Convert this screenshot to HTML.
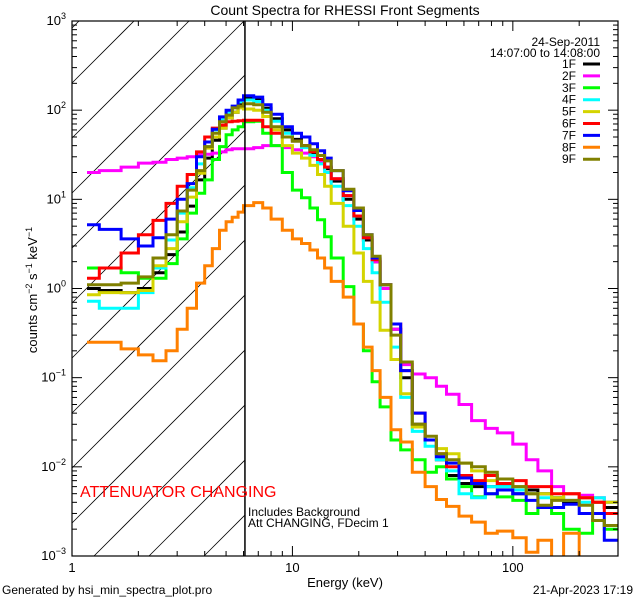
<!DOCTYPE html>
<html><head><meta charset="utf-8"><style>
html,body{margin:0;padding:0;background:#fff;width:640px;height:600px;overflow:hidden}
svg{display:block;font-family:"Liberation Sans",sans-serif}
</style></head><body>
<svg id="chart" width="640" height="600" viewBox="0 0 640 600" xmlns="http://www.w3.org/2000/svg">
<defs><clipPath id="plotclip"><rect x="72" y="21" width="546" height="535"/></clipPath></defs>
<text x="345" y="15" font-size="14" text-anchor="middle">Count Spectra for RHESSI Front Segments</text>
<g id="hatch"></g>
<g id="series" clip-path="url(#plotclip)"></g>
<g id="axes"></g>
<text x="80" y="497" font-size="16" fill="#f00">ATTENUATOR CHANGING</text>
<text x="248" y="516" font-size="12">Includes Background</text>
<text x="248" y="527" font-size="12">Att CHANGING, FDecim 1</text>
<text x="600" y="46" font-size="12" text-anchor="end">24-Sep-2011</text>
<text x="600" y="57" font-size="12" text-anchor="end">14:07:00 to 14:08:00</text>
<g id="legend"></g>
<text x="345" y="587" font-size="13" text-anchor="middle">Energy (keV)</text>
<text transform="translate(37,290) rotate(-90)" font-size="13" text-anchor="middle">counts cm<tspan dy="-5" font-size="9">−2</tspan><tspan dy="5"> s</tspan><tspan dy="-5" font-size="9">−1</tspan><tspan dy="5"> keV</tspan><tspan dy="-5" font-size="9">−1</tspan></text>
<text x="2" y="594" font-size="12">Generated by hsi_min_spectra_plot.pro</text>
<text x="633" y="594" font-size="12" text-anchor="end">21-Apr-2023 17:19</text>
</svg>
<script>
const edges=[1.17,1.33,1.67,2,2.33,2.67,3,3.33,3.67,4,4.33,4.67,5,5.33,5.67,6,6.67,7.33,8,9,10,11,12,13,14,15,17,19,21,23,25,28,31,35,40,45,50,57,65,75,85,100,115,130,150,170,200,230,260,300];
const seriesNames=["1F","2F","3F","4F","5F","6F","7F","8F","9F"];
const seriesColors=["#000000","#ff00ff","#00ff00","#00ffff","#d4d400","#ff0000","#0000ff","#ff8000","#808000"];
const s1F=[1.0,0.95,0.9,1.0,1.5,2.4,4.3,8.4,16.5,29,46,63,82,95,115,140,130,105,80,60,47,40,33,27,22,16,10,6,3.5,2,1.0,0.35,0.1,0.03,0.02,0.012,0.008,0.0065,0.006,0.006,0.006,0.005,0.0055,0.005,0.0045,0.004,0.0045,0.004,0.0035];
const s2F=[20,21,23,25.5,26,28,29,30,32,32,33,34,36,37,37,37,38,40,40,38,36,33,30,27,23,17,11,6.5,3.7,2.0,1.0,0.35,0.14,0.11,0.1,0.08,0.065,0.05,0.033,0.027,0.024,0.018,0.012,0.009,0.006,0.005,0.0048,0.0045,0.004];
const s3F=[1.7,1.7,1.5,1.3,1.3,1.9,3.6,7,11.7,16.5,28,39,53,60,65,74,75,55,40,20,12.7,10.4,8.0,5.9,3.8,2.2,1.05,0.4,0.2,0.09,0.047,0.02,0.0155,0.012,0.0087,0.01,0.0073,0.006,0.0046,0.005,0.0046,0.0042,0.003,0.0035,0.003,0.002,0.0018,0.0025,0.002];
const s4F=[0.72,0.6,0.6,0.9,1.7,3.5,7,13.5,25,39,60,78,95,110,124,130,125,100,75,55,45,38,31,25,20,14,8.5,5,2.8,1.5,0.7,0.22,0.06,0.025,0.017,0.012,0.009,0.005,0.0045,0.006,0.006,0.0055,0.005,0.0045,0.0045,0.0042,0.004,0.0045,0.004];
const s5F=[0.85,0.9,0.9,0.95,1.8,2.8,5.6,10.6,19.6,37.5,50,63,82,95,106,103,100,85,60,40,33,29,24,19,14,9,5,2.5,1.2,0.7,0.34,0.16,0.066,0.028,0.02,0.016,0.014,0.011,0.009,0.007,0.0065,0.006,0.005,0.005,0.0045,0.005,0.0045,0.004,0.004];
const s6F=[1.3,1.7,2.5,4,5.8,9,14,19,34,50,63,68,74,75,76,77,77,65,55,50,45,40,34,28,23,17,11,6.5,3.7,2.1,1.1,0.4,0.12,0.04,0.02,0.014,0.01,0.008,0.007,0.008,0.0065,0.007,0.006,0.006,0.005,0.005,0.0045,0.004,0.003];
const s7F=[5.2,4.6,3.6,3.0,3.7,6,10,15,30,44,61,84,100,111,130,145,140,115,90,65,55,50,42,35,29,21,12.5,7.5,4,2.2,1.1,0.4,0.12,0.04,0.02,0.013,0.011,0.0075,0.0065,0.005,0.0055,0.005,0.0042,0.0035,0.0035,0.0038,0.003,0.003,0.0015];
const s8F=[0.25,0.25,0.21,0.18,0.155,0.2,0.35,0.6,1.15,1.8,2.8,4.5,5.6,6.3,7.2,8.5,9.2,8.0,6,4.5,3.6,3.2,2.7,2.2,1.7,1.2,0.8,0.4,0.22,0.12,0.06,0.026,0.019,0.0087,0.006,0.0043,0.0036,0.0028,0.0024,0.0018,0.0019,0.0016,0.0011,0.0015,0.0008,0.0018,0.0008,0.0009,0.0009];
const s9F=[1.1,1.1,1.15,1.35,2.2,4.0,7.4,12.7,21,39,55,74,88,106,111,118,115,95,65,50,45,40,36,31,27,21,13,8,4,2.3,1.1,0.3,0.15,0.03,0.022,0.014,0.012,0.011,0.01,0.0087,0.0073,0.006,0.005,0.0037,0.0042,0.0042,0.0037,0.0025,0.0022];
const allSeries=[s1F,s2F,s3F,s4F,s5F,s6F,s7F,s8F,s9F];
const xTickLabels=["1","10","100"];
const yTickExps=[-3,-2,-1,0,1,2,3];

const NS="http://www.w3.org/2000/svg";
const X0=72,X1=618,Y0=21,Y1=556,XMIN=0,XMAX=Math.log10(300),YMIN=-3,YMAX=3;
const xs=e=>X0+(Math.log10(e)-XMIN)/(XMAX-XMIN)*(X1-X0);
const ys=v=>Math.min(Y1+2,Y1-(Math.log10(Math.max(v,1e-4))-YMIN)/(YMAX-YMIN)*(Y1-Y0));
function mk(tag,attrs,parent){const el=document.createElementNS(NS,tag);for(const k in attrs)el.setAttribute(k,attrs[k]);parent.appendChild(el);return el;}

// hatch (manually clipped to attenuator region)
const hatch=document.getElementById('hatch');
const HX1=xs(6.09);
for(let k=-14;k<14;k++){const S=83+55*k+X0;
 const xa=Math.max(X0,S-Y1),xb=Math.min(HX1,S-Y0);
 if(xb<=xa)continue;
 const ln=mk('line',{x1:xa,y1:S-xa,x2:xb,y2:S-xb,stroke:'#000','stroke-width':0.8},hatch);
 
 }

// series
const sg=document.getElementById('series');
allSeries.forEach((vals,si)=>{
 let d='M'+xs(edges[0]).toFixed(1)+' '+ys(vals[0]).toFixed(1);
 for(let i=0;i<vals.length;i++){
  if(i>0)d+=' V'+ys(vals[i]).toFixed(1);
  d+=' H'+xs(edges[i+1]).toFixed(1);
 }
 const p=mk('path',{d:d,fill:'none',stroke:seriesColors[si],'stroke-width':3,'stroke-linejoin':'miter'},sg);
 
 
});

// axes
const ax=document.getElementById('axes');
const fr=mk('rect',{x:X0,y:Y0,width:X1-X0,height:Y1-Y0,fill:'none',stroke:'#000','stroke-width':1.2},ax);


const att=mk('line',{x1:HX1,y1:Y0,x2:HX1,y2:Y1,stroke:'#000','stroke-width':1.5},ax);


for(let dec=0;dec<3;dec++){for(let m=1;m<10;m++){const e=m*Math.pow(10,dec);if(e>300)break;
 const x=xs(e),L=m===1?10:5;
 mk('line',{x1:x,y1:Y1,x2:x,y2:Y1-L,stroke:'#000'},ax);
 mk('line',{x1:x,y1:Y0,x2:x,y2:Y0+L,stroke:'#000'},ax);}}
xTickLabels.forEach((t,i)=>{const tx=mk('text',{x:xs(Math.pow(10,i)),y:572,'font-size':13,'text-anchor':'middle'},ax);tx.textContent=t;
 
 });
for(let e=-3;e<3;e++){for(let m=1;m<10;m++){const y=ys(m*Math.pow(10,e)),L=m===1?10:5;
 mk('line',{x1:X0,y1:y,x2:X0+L,y2:y,stroke:'#000'},ax);
 mk('line',{x1:X1,y1:y,x2:X1-L,y2:y,stroke:'#000'},ax);}}
mk('line',{x1:X0,y1:Y0,x2:X0+10,y2:Y0,stroke:'#000'},ax);
yTickExps.forEach(e=>{const t=mk('text',{x:66,y:ys(Math.pow(10,e))+4,'font-size':13,'text-anchor':'end'},ax);
 
 
 const a=document.createElementNS(NS,'tspan');a.textContent='10';t.appendChild(a);
 const b=document.createElementNS(NS,'tspan');b.setAttribute('dy','-6');b.setAttribute('font-size','9');b.textContent=(e<0?'−':'')+Math.abs(e);t.appendChild(b);});

// legend
const lg=document.getElementById('legend');
seriesNames.forEach((n,i)=>{const y=64+i*11.9;
 const t=mk('text',{x:576,y:y+4,'font-size':12,'text-anchor':'end'},lg);t.textContent=n;
 
 
 const l=mk('line',{x1:583,y1:y,x2:600,y2:y,stroke:seriesColors[i],'stroke-width':3},lg);
 
 });
</script>
</body></html>
